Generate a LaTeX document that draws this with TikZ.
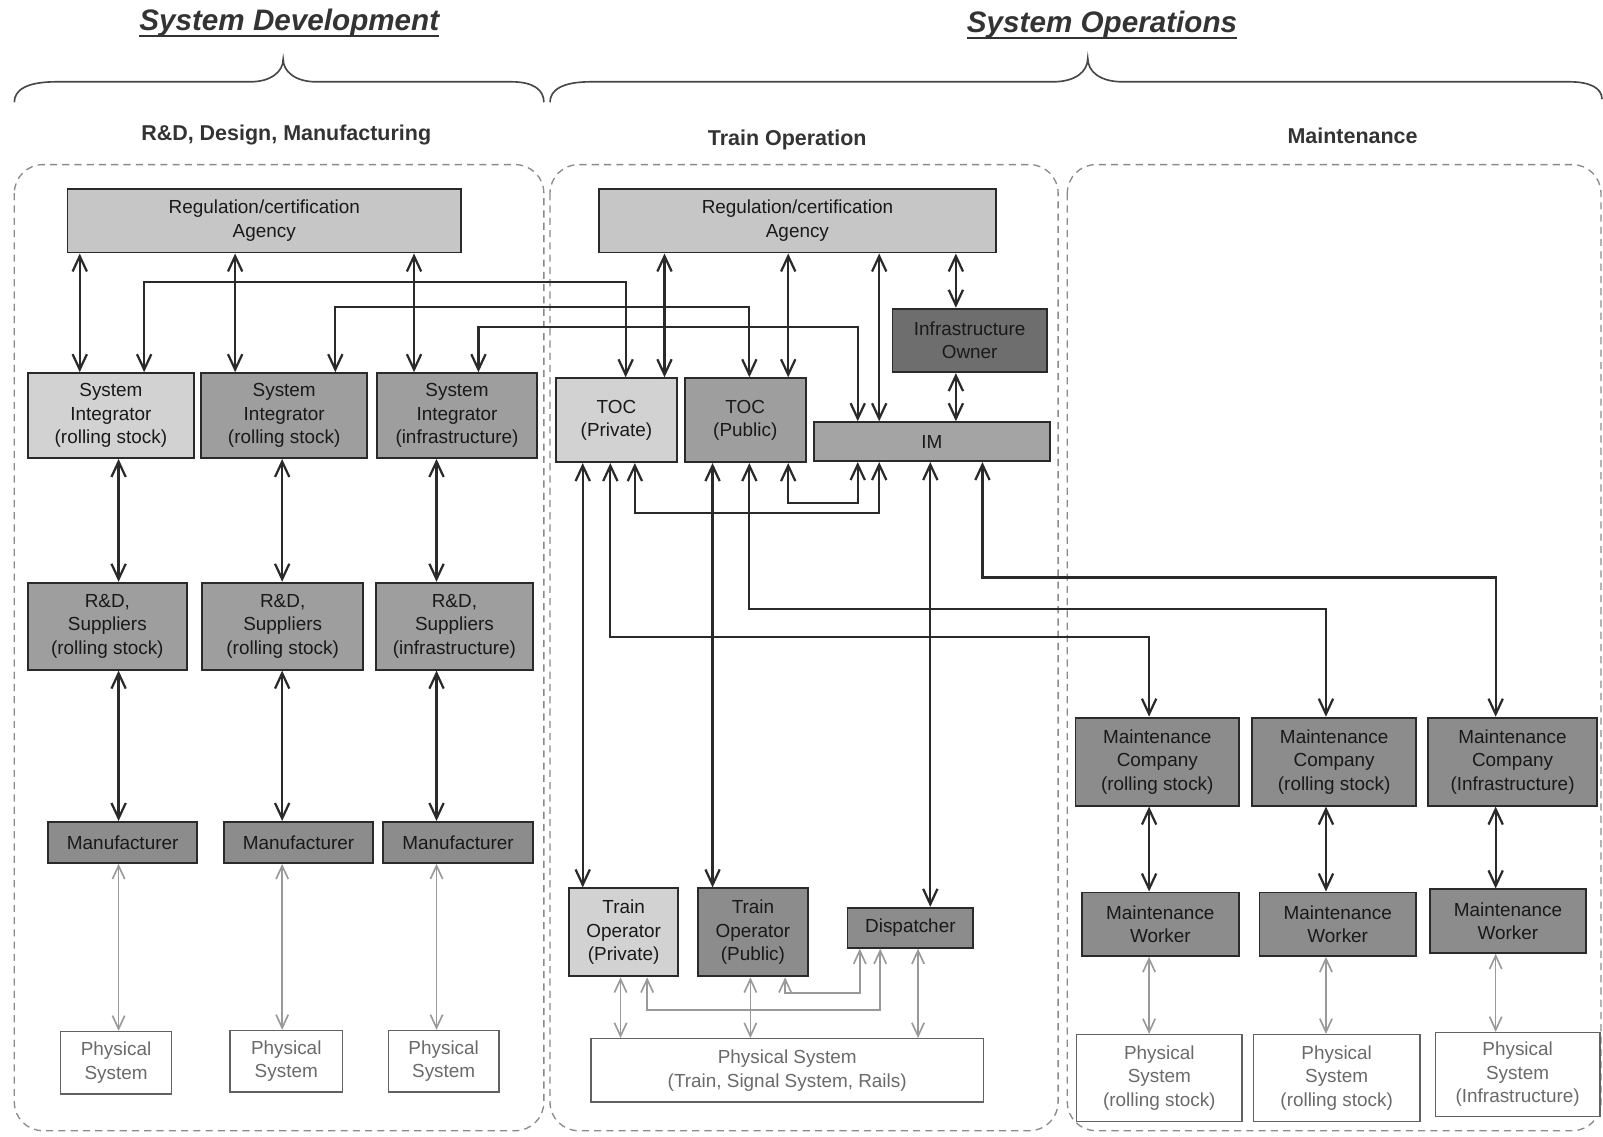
\documentclass[tikz,border=0pt]{standalone}
\usepackage{fontspec}
\setmainfont{Liberation Sans}
\usetikzlibrary{arrows.meta}
\definecolor{cAgency}{HTML}{C6C6C6}
\definecolor{cLight}{HTML}{D2D2D2}
\definecolor{cMid}{HTML}{9E9E9E}
\definecolor{cIM}{HTML}{A4A4A4}
\definecolor{cDark}{HTML}{8C8C8C}
\definecolor{cDarkest}{HTML}{6E6E6E}
\definecolor{cLine}{HTML}{2A2A2A}
\definecolor{cGrayArrow}{HTML}{999999}
\definecolor{cDash}{HTML}{8A8A8A}
\definecolor{cPhysText}{HTML}{6A6A6A}
\definecolor{cTitle}{HTML}{333333}
\begin{document}
\begin{tikzpicture}[x=1pt,y=-1pt,
  boxtext/.style={font=\fontsize{18.5}{23}\selectfont},
  box/.style={boxtext, draw=cLine, line width=1.9pt, inner sep=0pt, align=center, text=black!90},
  phys/.style={boxtext, draw=black!62, line width=1.3pt, fill=white, inner sep=0pt, align=center, text=cPhysText},
  wh/.style n args={2}{minimum width=#1, minimum height=#2},
  bi/.style={line width=2.2pt, draw=cLine, {Straight Barb[length=15pt,width=14pt]}-{Straight Barb[length=15pt,width=14pt]}},
  gbi/.style={line width=1.6pt, draw=cGrayArrow, {Straight Barb[length=13pt,width=12pt]}-{Straight Barb[length=13pt,width=12pt]}},
  container/.style={draw=cDash, line width=1.3pt, dash pattern=on 7pt off 5pt, rounded corners=28pt},
  brace/.style={draw=black!72, line width=1.6pt},
  bigtitle/.style={font=\fontsize{29}{34}\selectfont\bfseries\itshape, text=cTitle, inner sep=0pt},
  sectitle/.style={font=\fontsize{21}{25}\selectfont\bfseries, text=cTitle, inner sep=0pt}
]
\useasboundingbox (0,0) rectangle (1568,1112);

% ---------- titles and braces ----------
\node[bigtitle] (tdev) at (283,22) {System Development};
\node[bigtitle] (tops) at (1078,24) {System Operations};
\draw[cTitle, line width=2.2pt] ([yshift=-6pt]tdev.base west) -- ([yshift=-6pt]tdev.base east);
\draw[cTitle, line width=2.2pt] ([yshift=-6pt]tops.base west) -- ([yshift=-6pt]tops.base east);

\draw[brace] (14,100) .. controls (14,88) and (26,80) .. (55,80) -- (245,80)
  .. controls (265,80) and (277,70) .. (277,58) .. controls (277,70) and (289,80) .. (309,80)
  -- (500,80) .. controls (522,80) and (532,88) .. (532,100);
\draw[brace] (538,100) .. controls (538,88) and (550,80) .. (578,80) -- (1030,80)
  .. controls (1052,80) and (1064,70) .. (1064,57) .. controls (1064,70) and (1076,80) .. (1098,80)
  -- (1535,80) .. controls (1555,80) and (1567,86) .. (1567,97);

\node[sectitle] (sdev) at (280,132) {R\&D, Design, Manufacturing};
\node[sectitle] (strain) at (770,137) {Train Operation};
\node[sectitle] (smaint) at (1323,133) {Maintenance};

% ---------- containers ----------
\draw[container] (14,161) rectangle (532,1106);
\draw[container] (538,161) rectangle (1035,1106);
\draw[container] (1044,161) rectangle (1566,1106);

% ---------- left column ----------
\node[box, fill=cAgency, wh={385pt}{62pt}] (ag1) at (258.5,216) {Regulation/certification\\Agency};
\node[box, fill=cLight, wh={163pt}{83pt}] (si1) at (108.5,406.5) {System\\Integrator\\(rolling stock)};
\node[box, fill=cMid, wh={162pt}{83pt}] (si2) at (278,406.5) {System\\Integrator\\(rolling stock)};
\node[box, fill=cMid, wh={156pt}{83pt}] (si3) at (447,406.5) {System\\Integrator\\(infrastructure)};
\node[box, fill=cMid, wh={156pt}{85pt}] (rd1) at (105,612.5) {R\&D,\\Suppliers\\(rolling stock)};
\node[box, fill=cMid, wh={157pt}{85pt}] (rd2) at (276.5,612.5) {R\&D,\\Suppliers\\(rolling stock)};
\node[box, fill=cMid, wh={153pt}{85pt}] (rd3) at (444.5,612.5) {R\&D,\\Suppliers\\(infrastructure)};
\node[box, fill=cDark, wh={146pt}{40pt}] (man1) at (120,824) {Manufacturer};
\node[box, fill=cDark, wh={146pt}{40pt}] (man2) at (292,824) {Manufacturer};
\node[box, fill=cDark, wh={146pt}{40pt}] (man3) at (448,824) {Manufacturer};
\node[phys, wh={109pt}{61pt}] (ph1) at (113.5,1039.5) {Physical\\System};
\node[phys, wh={110pt}{60pt}] (ph2) at (280,1038) {Physical\\System};
\node[phys, wh={108pt}{60pt}] (ph3) at (434,1038) {Physical\\System};

% ---------- centre column ----------
\node[box, fill=cAgency, wh={388pt}{62pt}] (ag2) at (780,216) {Regulation/certification\\Agency};
\node[box, fill=cLight, wh={118pt}{82pt}] (tocpr) at (603,411) {TOC\\(Private)};
\node[box, fill=cMid, wh={118pt}{82pt}] (tocpu) at (729,411) {TOC\\(Public)};
\node[box, fill=cDarkest, wh={151pt}{62pt}] (io) at (948.5,333) {Infrastructure\\Owner};
\node[box, fill=cIM, wh={231pt}{38pt}] (im) at (911.5,432) {IM};
\node[box, fill=cLight, wh={106pt}{86pt}] (topr) at (610,912) {Train\\Operator\\(Private)};
\node[box, fill=cDark, wh={107pt}{86pt}] (topu) at (736.5,912) {Train\\Operator\\(Public)};
\node[box, fill=cDark, wh={123pt}{39pt}] (disp) at (890.5,907.5) {Dispatcher};
\node[phys, wh={384pt}{62pt}] (phc) at (770,1047) {Physical System\\(Train, Signal System, Rails)};

% ---------- right column ----------
\node[box, fill=cDark, wh={160pt}{86pt}] (mc1) at (1132,745) {Maintenance\\Company\\(rolling stock)};
\node[box, fill=cDark, wh={160pt}{86pt}] (mc2) at (1305,745) {Maintenance\\Company\\(rolling stock)};
\node[box, fill=cDark, wh={165pt}{86pt}] (mc3) at (1479.5,745) {Maintenance\\Company\\(Infrastructure)};
\node[box, fill=cDark, wh={154pt}{62pt}] (mw1) at (1135,904) {Maintenance\\Worker};
\node[box, fill=cDark, wh={153pt}{62pt}] (mw2) at (1308.5,904) {Maintenance\\Worker};
\node[box, fill=cDark, wh={152pt}{62pt}] (mw3) at (1475,901) {Maintenance\\Worker};
\node[phys, wh={162pt}{85pt}] (ph4) at (1134,1054.5) {Physical\\System\\(rolling stock)};
\node[phys, wh={163pt}{85pt}] (ph5) at (1307.5,1054.5) {Physical\\System\\(rolling stock)};
\node[phys, wh={161pt}{82pt}] (ph6) at (1484.5,1051) {Physical\\System\\(Infrastructure)};

% ---------- connectors: left ----------
\draw[bi] (78,0 |- ag1.south) -- (78,0 |- si1.north);
\draw[bi] (230,0 |- ag1.south) -- (230,0 |- si2.north);
\draw[bi] (405,0 |- ag1.south) -- (405,0 |- si3.north);
\draw[bi] (141,0 |- si1.north) -- (141,276) -- (612,276) -- (612,0 |- tocpr.north);
\draw[bi] (328,0 |- si2.north) -- (328,300) -- (733,300) -- (733,0 |- tocpu.north);
\draw[bi] (468,0 |- si3.north) -- (468,320) -- (839,320) -- (839,0 |- im.north);
\draw[bi] (116,0 |- si1.south) -- (116,0 |- rd1.north);
\draw[bi] (276,0 |- si2.south) -- (276,0 |- rd2.north);
\draw[bi] (427,0 |- si3.south) -- (427,0 |- rd3.north);
\draw[bi] (116,0 |- rd1.south) -- (116,0 |- man1.north);
\draw[bi] (276,0 |- rd2.south) -- (276,0 |- man2.north);
\draw[bi] (427,0 |- rd3.south) -- (427,0 |- man3.north);
\draw[gbi] (116,0 |- man1.south) -- (116,0 |- ph1.north);
\draw[gbi] (276,0 |- man2.south) -- (276,0 |- ph2.north);
\draw[gbi] (427,0 |- man3.south) -- (427,0 |- ph3.north);

% ---------- connectors: centre ----------
\draw[bi] (650,0 |- ag2.south) -- (650,0 |- tocpr.north);
\draw[bi] (771,0 |- ag2.south) -- (771,0 |- tocpu.north);
\draw[bi] (860,0 |- ag2.south) -- (860,0 |- im.north);
\draw[bi] (935,0 |- ag2.south) -- (935,0 |- io.north);
\draw[bi] (935,0 |- io.south) -- (935,0 |- im.north);
\draw[bi] (771,0 |- tocpu.south) -- (771,492) -- (839,492) -- (839,0 |- im.south);
\draw[bi] (621,0 |- tocpr.south) -- (621,502) -- (860,502) -- (860,0 |- im.south);
\draw[bi] (570,0 |- tocpr.south) -- (570,0 |- topr.north);
\draw[bi] (697,0 |- tocpu.south) -- (697,0 |- topu.north);
\draw[bi] (910,0 |- im.south) -- (910,0 |- disp.north);
\draw[bi] (597,0 |- tocpr.south) -- (597,623) -- (1124,623) -- (1124,0 |- mc1.north);
\draw[bi] (733,0 |- tocpu.south) -- (733,596) -- (1297,596) -- (1297,0 |- mc2.north);
\draw[bi] (961,0 |- im.south) -- (961,565) -- (1463,565) -- (1463,0 |- mc3.north);
\draw[gbi] (607,0 |- topr.south) -- (607,0 |- phc.north);
\draw[gbi] (734,0 |- topu.south) -- (734,0 |- phc.north);
\draw[gbi] (898,0 |- disp.south) -- (898,0 |- phc.north);
\draw[gbi] (633,0 |- topr.south) -- (633,988) -- (861,988) -- (861,0 |- disp.south);
\draw[gbi] (768,0 |- topu.south) -- (768,971) -- (841,971) -- (841,0 |- disp.south);

% ---------- connectors: right ----------
\draw[bi] (1124,0 |- mc1.south) -- (1124,0 |- mw1.north);
\draw[bi] (1297,0 |- mc2.south) -- (1297,0 |- mw2.north);
\draw[bi] (1463,0 |- mc3.south) -- (1463,0 |- mw3.north);
\draw[gbi] (1124,0 |- mw1.south) -- (1124,0 |- ph4.north);
\draw[gbi] (1297,0 |- mw2.south) -- (1297,0 |- ph5.north);
\draw[gbi] (1463,0 |- mw3.south) -- (1463,0 |- ph6.north);
\end{tikzpicture}
\end{document}
